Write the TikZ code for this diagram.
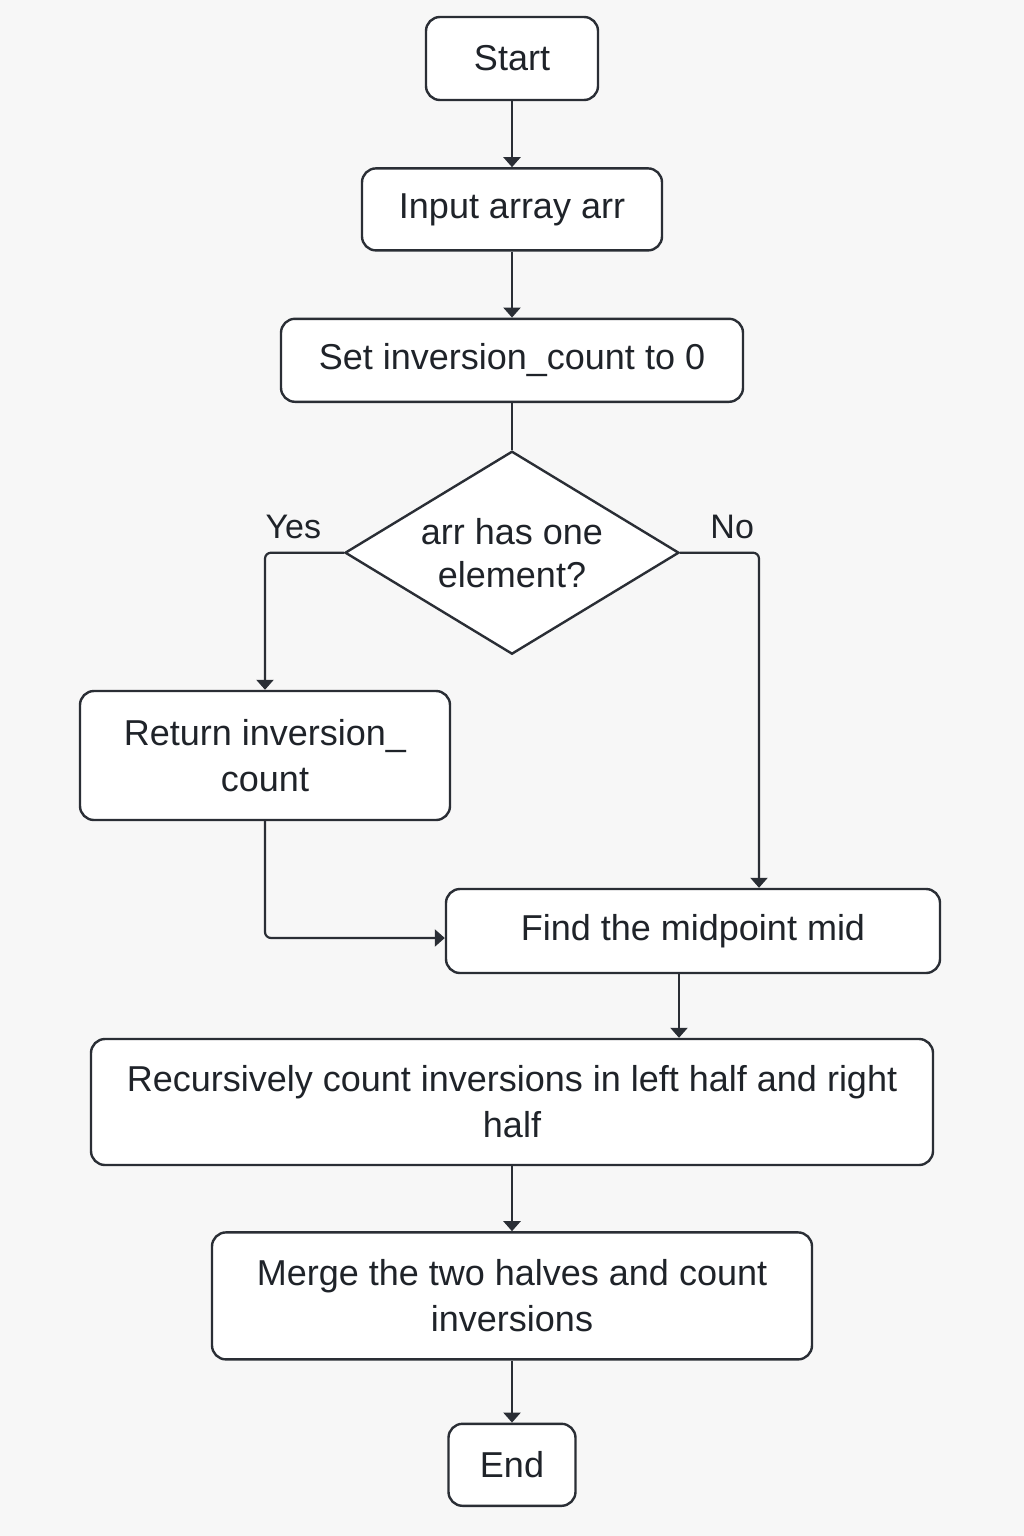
\documentclass[tikz,border=0pt]{standalone}
\usepackage{fontspec}
\setmainfont{Liberation Sans}
\usetikzlibrary{positioning,shapes.geometric,arrows.meta}
\definecolor{linegray}{HTML}{2A2E35}
\definecolor{textgray}{HTML}{1F2329}
\definecolor{bggray}{HTML}{F7F7F7}
\tikzset{
    flow box/.style = {
        draw = linegray,
        fill = white,
        line width = 2.4pt,
        rounded corners = 14pt,
        align = center,
        inner sep = 0pt,
        text = textgray,
        font = \fontsize{36}{46}\selectfont,
        },
    decision/.style = {
        diamond,
        draw = linegray,
        fill = white,
        line width = 2.4pt,
        align = center,
        inner sep = 0pt,
        aspect = 1.645,
        text = textgray,
        font = \fontsize{36}{43}\selectfont,
        },
    flow line/.style = {
        draw = linegray,
        line width = 2.2pt,
        rounded corners = 6pt,
        },
    flow arrow/.style = {
        flow line,
        -{Triangle[length=10pt, width=17pt]},
        },
    branch/.style = {
        text = textgray,
        font = \fontsize{34}{40}\selectfont,
        inner sep = 0pt,
        },
}
\begin{document}
\begin{tikzpicture}[x=1pt, y=-1pt]
    \fill[bggray] (0,0) rectangle (1024,1536);
    \useasboundingbox (0,0) rectangle (1024,1536);

    \node[flow box, minimum width=172pt, minimum height=83pt] (start) at (512,58.5) {Start};
    \node[flow box, minimum width=300pt, minimum height=82pt, below=66pt of start] (input) {Input array arr};
    \node[flow box, minimum width=462pt, minimum height=83pt, below=66pt of input] (set) {Set inversion\_count to 0};
    \node[decision, minimum width=334pt, minimum height=203pt, below=47pt of set] (check) {arr has one\\element?};
    \node[flow box, minimum width=370pt, minimum height=129pt] (ret) at (265,755.5) {Return inversion\_\\count};
    \node[flow box, minimum width=494pt, minimum height=84pt] (find) at (693,931) {Find the midpoint mid};
    \node[flow box, minimum width=842pt, minimum height=126pt] (recurse) at (512,1102) {Recursively count inversions in left half and right\\half};
    \node[flow box, minimum width=600pt, minimum height=127pt, below=65pt of recurse] (merge) {Merge the two halves and count\\inversions};
    \node[flow box, minimum width=127pt, minimum height=82pt, below=62pt of merge] (end) {End};

    \draw[flow arrow] (start) -- (input);
    \draw[flow arrow] (input) -- (set);
    \draw[flow line] (set) -- (check);
    % yes branch
    \draw[flow arrow] (check.west) -| node[branch, pos=0.32, above=13pt] {Yes} (ret.north);
    % no branch
    \draw[flow arrow] (check.east) -| node[branch, pos=0.33, above=13pt] {No} ([xshift=66pt]find.north);
    \draw[flow arrow] (ret.south) |- ([yshift=-7pt]find.west);
    \draw[flow arrow] ([xshift=-14pt]find.south) -- ([xshift=-14pt]find.south |- recurse.north);
    \draw[flow arrow] (recurse) -- (merge);
    \draw[flow arrow] (merge) -- (end);
\end{tikzpicture}
\end{document}
